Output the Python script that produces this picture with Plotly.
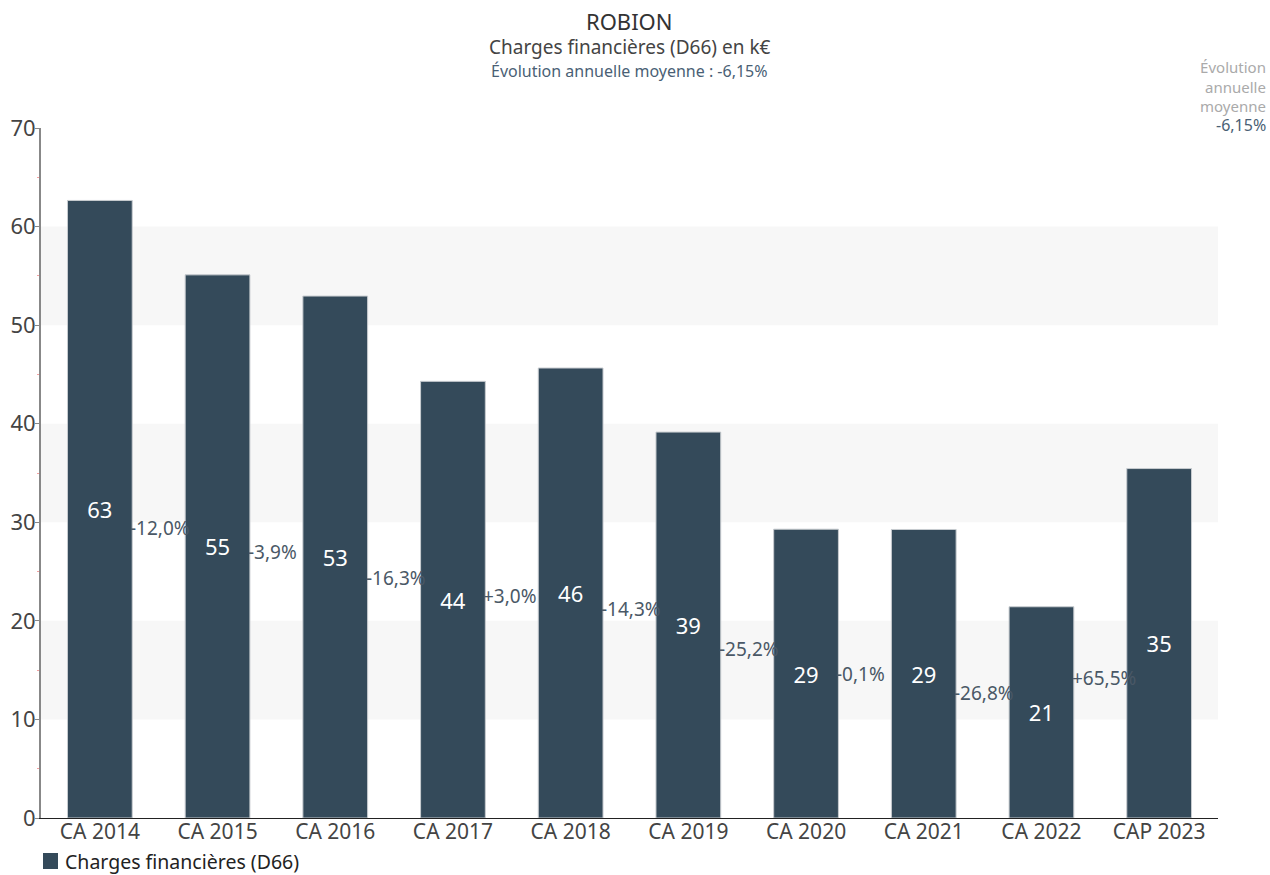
import plotly.graph_objects as go

categories = ["CA 2014", "CA 2015", "CA 2016", "CA 2017", "CA 2018",
              "CA 2019", "CA 2020", "CA 2021", "CA 2022", "CAP 2023"]
values = [62.65, 55.1, 52.95, 44.3, 45.65, 39.15, 29.3, 29.27, 21.43, 35.45]
changes = ["-12,0%", "-3,9%", "-16,3%", "+3,0%", "-14,3%",
           "-25,2%", "-0,1%", "-26,8%", "+65,5%"]
bands = [(10, 20), (30, 40), (50, 60)]
series_name = "Charges financières (D66)"

FONT = "Noto Sans"
BAR = "#344a5a"

W, H = 1270, 875
ML, MR, MT, MB = 41, 52, 128, 57
PW, PH = W - ML - MR, H - MT - MB


def px_x(px):
    return (px - ML) / PW


def px_y(py):
    return (H - MB - py) / PH


fig = go.Figure()
fig.add_trace(go.Bar(
    x=categories, y=values, name=series_name,
    marker=dict(color=BAR, line=dict(color="#c8ccd0", width=1)),
    width=0.55, showlegend=False,
    text=[str(round(v)) for v in values],
    textposition="inside", insidetextanchor="middle",
    textfont=dict(color="white", size=22, family=FONT),
    constraintext="none",
))

for lo, hi in bands:
    fig.add_shape(type="rect", xref="paper", yref="y", x0=0, x1=1, y0=lo, y1=hi,
                  fillcolor="#f7f7f7", line_width=0, layer="below")

for i, c in enumerate(changes):
    fig.add_annotation(x=i + 0.275, y=(values[i] + values[i + 1]) / 4,
                       xref="x", yref="y", text=c, showarrow=False,
                       xanchor="left", yanchor="middle", xshift=-4,
                       font=dict(size=19, color="#4a5866", family=FONT))

fig.add_annotation(xref="paper", yref="paper", x=0.5, y=1.0, yshift=107,
                   text="ROBION", showarrow=False, xanchor="center", yanchor="middle",
                   font=dict(size=22, color="#333333", family=FONT))
fig.add_annotation(xref="paper", yref="paper", x=0.5, y=1.0, yshift=81,
                   text="Charges financières (D66) en k€", showarrow=False,
                   xanchor="center", yanchor="middle",
                   font=dict(size=19, color="#444444", family=FONT))
fig.add_annotation(xref="paper", yref="paper", x=0.5, y=1.0, yshift=57,
                   text="Évolution annuelle moyenne : -6,15%", showarrow=False,
                   xanchor="center", yanchor="middle",
                   font=dict(size=16, color="#4a5f75", family=FONT))
fig.add_annotation(xref="paper", yref="paper", x=1.0, xshift=50, y=1.0, yshift=42,
                   text="Évolution<br>annuelle<br>moyenne", showarrow=False,
                   xanchor="right", yanchor="middle", align="right",
                   font=dict(size=15, color="#aaaaaa", family=FONT))
fig.add_annotation(xref="paper", yref="paper", x=1.0, xshift=50, y=1.0, yshift=3,
                   text="-6,15%", showarrow=False,
                   xanchor="right", yanchor="middle", align="right",
                   font=dict(size=16, color="#4a5f75", family=FONT))

# legend (drawn manually so it does not push the plot margins)
fig.add_shape(type="rect", xref="paper", yref="paper",
              x0=px_x(43), x1=px_x(58), y0=px_y(869), y1=px_y(853),
              fillcolor=BAR, line_width=0)
fig.add_annotation(xref="paper", yref="paper", x=px_x(63), y=px_y(861),
                   text=series_name, showarrow=False, xanchor="left", yanchor="middle",
                   font=dict(size=19.5, color="#222222", family=FONT))

fig.update_layout(
    width=W, height=H,
    margin=dict(l=ML, r=MR, t=MT, b=MB),
    plot_bgcolor="white", paper_bgcolor="white",
    font=dict(family=FONT, color="#444444"),
    showlegend=False,
    xaxis=dict(showline=True, linecolor="#222222", linewidth=1, ticks="",
               tickfont=dict(size=21, color="#444444"), showgrid=False, automargin=False,
               ticklabelstandoff=-5),
    yaxis=dict(range=[0, 70], dtick=10, showline=True, linecolor="#888888", linewidth=2,
               ticks="outside", ticklen=4, tickcolor="#888888", showgrid=False,
               zeroline=False, tickfont=dict(size=22, color="#444444"), automargin=False,
               ticklabelstandoff=-5,
               minor=dict(ticks="outside", ticklen=2, tickcolor="#f4a0a0", dtick=5)),
)

fig.write_html("out.html", post_script="document.body.style.margin='0';",
               config={"displayModeBar": False})
